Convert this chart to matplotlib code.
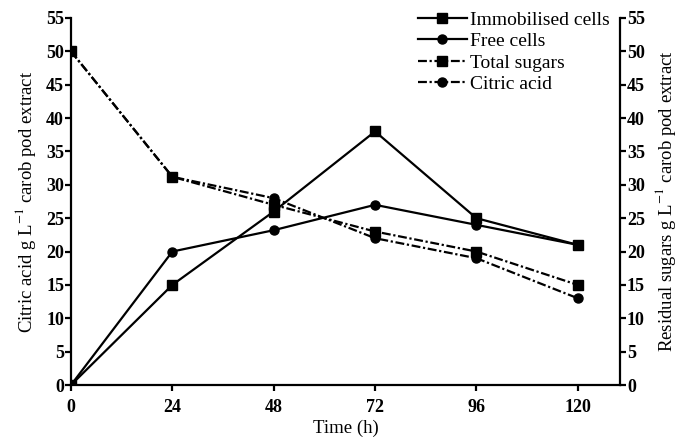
import matplotlib
matplotlib.use("Agg")
import matplotlib.pyplot as plt

plt.rcParams['font.family'] = ['Liberation Serif', 'DejaVu Serif']
plt.rcParams['mathtext.fontset'] = 'stix'

time_h = [0, 24, 48, 72, 96, 120]
immobilised = [0, 15, 26, 38, 25, 21]
free_cells = [0, 20, 23.2, 27, 24, 21]
total_sugars = [50, 31.2, 27, 23, 20, 15]
citric_acid = [50, 31.2, 28, 22, 19, 13]
x_ticks = [0, 24, 48, 72, 96, 120]
y_ticks = list(range(0, 56, 5))

fig = plt.figure(figsize=(6.79, 4.44), dpi=100)
ax = fig.add_axes([71/679, 1-385/444, (620-71)/679, (385-18)/444])

dashes = (0, (4, 1.2, 1, 1.2))
ax.plot(time_h, immobilised, color='black', lw=1.6, marker='s', ms=6.5, label='Immobilised cells')
ax.plot(time_h, free_cells, color='black', lw=1.6, marker='o', ms=6.5, label='Free cells')
ax.plot(time_h, total_sugars, color='black', lw=1.6, ls=dashes, marker='s', ms=6.5, label='Total sugars')
ax.plot(time_h, citric_acid, color='black', lw=1.6, ls=dashes, marker='o', ms=6.5, label='Citric acid')

ax.set_xlim(0, 130)
ax.set_ylim(0, 55)
ax.set_xticks(x_ticks)
ax.set_yticks(y_ticks)
ax.spines['top'].set_visible(False)
ax.spines['right'].set_visible(False)
for s in ['left', 'bottom']:
    ax.spines[s].set_linewidth(1.6)
ax.tick_params(direction='out', length=4, width=1.6, labelsize=13, pad=1)
ax.tick_params(axis='x', pad=6)
for lab in ax.get_xticklabels() + ax.get_yticklabels():
    lab.set_fontweight('bold')
ax.set_xlabel('Time (h)', fontsize=13.5, labelpad=3)
ax.set_ylabel('Citric acid g L$^{-1}$ carob pod extract', fontsize=13.5, labelpad=6)

ax2 = ax.twinx()
ax2.set_ylim(0, 55)
ax2.set_yticks(y_ticks)
for s in ['top', 'left', 'bottom']:
    ax2.spines[s].set_visible(False)
ax2.spines['right'].set_linewidth(1.6)
ax2.tick_params(direction='out', length=4, width=1.6, labelsize=13, pad=1)
for lab in ax2.get_yticklabels():
    lab.set_fontweight('bold')
ax2.set_ylabel('Residual sugars g L$^{-1}$ carob pod extract', fontsize=13.5, labelpad=6)

fig.legend(loc='upper left', bbox_to_anchor=(418/679, 1-11/444), frameon=False,
           fontsize=14, handlelength=2.5, handletextpad=0.15, labelspacing=0.2,
           borderpad=0, borderaxespad=0)

fig.savefig('out.png', dpi=100)
